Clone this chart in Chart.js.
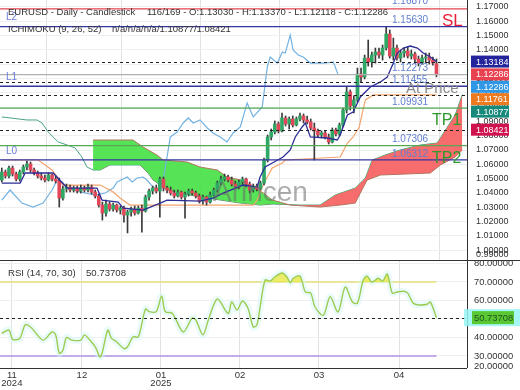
<!DOCTYPE html>
<html>
<head>
<meta charset="utf-8">
<script src="https://cdn.jsdelivr.net/npm/chart.js@4.4.1/dist/chart.umd.min.js"></script>
<style>
html, body { margin: 0; padding: 0; background: #fff; }
#wrap { position: relative; width: 520px; height: 390px; overflow: hidden; }
#main { position: absolute; left: 0; top: 0; }
#rsi { position: absolute; left: 0; top: 261px; }
</style>
</head>
<body>
<div id="wrap">
  <canvas id="main" width="520" height="261"></canvas>
  <canvas id="rsi" width="520" height="129"></canvas>
</div>
<script>
// EURUSD daily candles (index = bar number)
var opens = [1.0490,1.0546,1.0518,1.0574,1.0532,1.0497,1.0546,1.0581,1.0602,1.0560,
  1.0539,1.0518,1.0504,1.0490,1.0525,1.0497,1.0483,1.0364,1.0427,1.0441,
  1.0420,1.0434,1.0413,1.0434,1.0420,1.0441,1.0406,1.0378,1.0315,1.0259,
  1.0322,1.0287,1.0315,1.0280,1.0294,1.0245,1.0266,1.0287,1.0259,1.0294,
  1.0273,1.0371,1.0413,1.0434,1.0413,1.0497,1.0434,1.0420,1.0399,1.0378,
  1.0406,1.0371,1.0392,1.0413,1.0399,1.0378,1.0343,1.0371,1.0336,1.0385,
  1.0420,1.0469,1.0497,1.0511,1.0490,1.0462,1.0448,1.0476,1.0497,1.0462,
  1.0420,1.0448,1.0427,1.0469,1.0630,1.0791,1.0826,1.0882,1.0833,1.0924,
  1.0882,1.0917,1.0875,1.0917,1.0938,1.0910,1.0896,1.0854,1.0833,1.0805,
  1.0819,1.0791,1.0756,1.0840,1.0812,1.0875,1.0980,1.1106,1.1008,1.1050,
  1.1231,1.1210,1.1343,1.1315,1.1364,1.1385,1.1364,1.1413,1.1511,1.1357,
  1.1413,1.1343,1.1378,1.1392,1.1357,1.1371,1.1336,1.1308,1.1343,1.1350,
  1.1329,1.1303];
var highs = [1.0574,1.0560,1.0588,1.0588,1.0546,1.0560,1.0595,1.0623,1.0616,1.0574,
  1.0553,1.0539,1.0525,1.0539,1.0532,1.0518,1.0504,1.0448,1.0462,1.0455,
  1.0448,1.0448,1.0455,1.0448,1.0462,1.0455,1.0420,1.0392,1.0336,1.0350,
  1.0336,1.0329,1.0322,1.0308,1.0308,1.0280,1.0301,1.0308,1.0308,1.0315,
  1.0385,1.0427,1.0448,1.0455,1.0511,1.0511,1.0448,1.0441,1.0420,1.0420,
  1.0413,1.0406,1.0427,1.0427,1.0413,1.0392,1.0385,1.0378,1.0406,1.0434,
  1.0483,1.0518,1.0532,1.0525,1.0511,1.0483,1.0490,1.0511,1.0504,1.0476,
  1.0462,1.0462,1.0483,1.0644,1.0805,1.0847,1.0903,1.0896,1.0959,1.0938,
  1.0931,1.0938,1.0931,1.0959,1.0952,1.0938,1.0917,1.0889,1.0847,1.0833,
  1.0833,1.0812,1.0854,1.0854,1.0889,1.0994,1.1141,1.1120,1.1078,1.1273,
  1.1273,1.1364,1.1469,1.1385,1.1413,1.1413,1.1434,1.1563,1.1539,1.1483,
  1.1434,1.1399,1.1413,1.1420,1.1399,1.1385,1.1357,1.1364,1.1378,1.1378,
  1.1350,1.1337];
var lows = [1.0476,1.0504,1.0504,1.0518,1.0483,1.0483,1.0532,1.0560,1.0546,1.0525,
  1.0504,1.0490,1.0476,1.0483,1.0483,1.0469,1.0301,1.0350,1.0406,1.0406,
  1.0406,1.0399,1.0399,1.0406,1.0406,1.0392,1.0364,1.0301,1.0210,1.0238,
  1.0273,1.0273,1.0266,1.0252,1.0196,1.0120,1.0238,1.0245,1.0252,1.0126,
  1.0266,1.0350,1.0392,1.0399,1.0231,1.0413,1.0399,1.0385,1.0364,1.0371,
  1.0357,1.0224,1.0378,1.0385,1.0364,1.0329,1.0322,1.0315,1.0329,1.0378,
  1.0406,1.0455,1.0483,1.0476,1.0448,1.0434,1.0427,1.0455,1.0441,1.0399,
  1.0406,1.0413,1.0420,1.0455,1.0616,1.0770,1.0812,1.0819,1.0826,1.0868,
  1.0847,1.0861,1.0868,1.0903,1.0889,1.0882,1.0840,1.0630,1.0791,1.0784,
  1.0777,1.0742,1.0749,1.0798,1.0798,1.0861,1.0959,1.0980,1.0959,1.1036,
  1.1176,1.1197,1.1287,1.1280,1.1308,1.1343,1.1329,1.1399,1.1343,1.1329,
  1.1329,1.1315,1.1350,1.1343,1.1336,1.1308,1.1287,1.1301,1.1308,1.1301,
  1.1294,1.12118];
var closes = [1.0546,1.0518,1.0574,1.0532,1.0497,1.0546,1.0581,1.0602,1.0560,1.0539,
  1.0518,1.0504,1.0490,1.0525,1.0497,1.0483,1.0364,1.0427,1.0441,1.0420,
  1.0434,1.0413,1.0434,1.0420,1.0441,1.0406,1.0378,1.0315,1.0259,1.0322,
  1.0287,1.0315,1.0280,1.0294,1.0245,1.0266,1.0287,1.0259,1.0294,1.0273,
  1.0371,1.0413,1.0434,1.0413,1.0497,1.0434,1.0420,1.0399,1.0378,1.0406,
  1.0371,1.0392,1.0413,1.0399,1.0378,1.0343,1.0371,1.0336,1.0385,1.0420,
  1.0469,1.0497,1.0511,1.0490,1.0462,1.0448,1.0476,1.0497,1.0462,1.0420,
  1.0448,1.0427,1.0469,1.0630,1.0791,1.0826,1.0882,1.0833,1.0924,1.0882,
  1.0917,1.0875,1.0917,1.0938,1.0910,1.0896,1.0854,1.0833,1.0805,1.0819,
  1.0791,1.0756,1.0840,1.0812,1.0875,1.0980,1.1106,1.1008,1.1050,1.1231,
  1.1210,1.1343,1.1315,1.1364,1.1385,1.1364,1.1413,1.1511,1.1357,1.1413,
  1.1343,1.1378,1.1392,1.1357,1.1371,1.1336,1.1308,1.1343,1.1350,1.1329,
  1.1308,1.12286];

// Ichimoku lines (bar index / price)
var tenkanX = [0,5.1,6.5,14.3,18.2,26.5,27.9,32.4,33.8,39.3,44.1,46,55.2,58.8,61.6,67.2,71.1,71.9,73.3,75.3,78.3,80.3,81.7,83.6,84.5,85.9,90.6,93.4,94.2,96.2,97.8,99.8,102.6,105.4,107.3,109,110.1,111.8,113.7,115.7,117.3,119.3,121];
var tenkanY = [1.0469,1.0469,1.0539,1.0539,1.0434,1.0434,1.0350,1.0336,1.0294,1.0280,1.0329,1.0350,1.0343,1.0364,1.0399,1.0455,1.0441,1.0511,1.0581,1.0609,1.0651,1.0700,1.0791,1.0861,1.0889,1.0791,1.0784,1.0770,1.0805,1.0945,1.0966,1.1071,1.1141,1.1176,1.1210,1.1308,1.1378,1.1413,1.1427,1.1413,1.1378,1.1350,1.1318];
var kijunX = [0,10.1,14,17,27.4,31,32.9,35.7,70,71.1,72.5,73.9,75.3,78.1,78.9,94.2,96.2,97.8,99.5,101.2,103.4,121];
var kijunY = [1.0630,1.0630,1.0560,1.0455,1.0455,1.0406,1.0364,1.0315,1.0315,1.0350,1.0441,1.0511,1.0574,1.0609,1.0630,1.0651,1.0749,1.0791,1.0861,1.1050,1.1085,1.1085];
var chikouX = [0,2.3,5.6,8.7,11.5,14,15.4,16.8,18.2,21.8,26,28.8,31,32.1,34.9,36.3,37.7,39.3,40.4,42.1,44.1,44.9,46,46.9,48.8,50.5,51.9,53.3,55.2,57.2,58.8,60.8,62.7,64.4,66.4,68.3,70,72.5,73.9,74.7,76.7,78.1,78.9,80.3,81.1,82.5,83.9,85.9,89.5,92.3,93.6];
var chikouY = [1.0350,1.0420,1.0329,1.0301,1.0329,1.0420,1.0490,1.0476,1.0434,1.0406,1.0385,1.0399,1.0434,1.0476,1.0511,1.0476,1.0504,1.0511,1.0490,1.0441,1.0420,1.0490,1.0651,1.0791,1.0826,1.0889,1.0924,1.0889,1.0910,1.0854,1.0819,1.0791,1.0756,1.0819,1.0861,1.1029,1.0931,1.1001,1.1280,1.1350,1.1308,1.1385,1.1378,1.1504,1.1399,1.1364,1.1350,1.1308,1.1308,1.1315,1.1229];
var spanAX = [0,7,9.8,11.2,12.9,15.7,18.2,20.4,22.3,23.7,25.4,27.4,30.1,38.5,40.7,42.1,44.1,46,49.6,55.2,60.8,66.4,71.9,75.5,83.1,88.6,92.8,98.4,101.2,103.1,106.7,110.9,116.5,121.2,123.5,126.2,128.2];
var spanAY = [1.0931,1.0910,1.0910,1.0889,1.0826,1.0756,1.0735,1.0714,1.0651,1.0581,1.0560,1.0560,1.0595,1.0595,1.0539,1.0490,1.0455,1.0420,1.0399,1.0371,1.0350,1.0329,1.0315,1.0322,1.0315,1.0315,1.0385,1.0434,1.0504,1.0630,1.0665,1.0700,1.0735,1.0749,1.0840,1.0945,1.1088];
var spanBX = [25.4,36.5,39.3,43.2,44.9,51.6,55.2,60,62.7,66.4,70,72.8,75.3,80.3,88.6,94.2,98.4,99.8,101.7,105.4,119.3,122.1,126.2,128.2];
var spanBY = [1.0770,1.0770,1.0721,1.0665,1.0630,1.0616,1.0581,1.0560,1.0511,1.0490,1.0441,1.0399,1.0350,1.0315,1.0301,1.0315,1.0329,1.0399,1.0490,1.0525,1.0539,1.0595,1.0651,1.0700];

// RSI (14)
var rsiX = [0,2,3,5,6.5,8,11.5,14,15,16,17,18,19.5,22,23,24,26,27.5,29.5,30.5,32,34,35,36.5,38,40,41,43,44.5,45.5,47.5,50.5,53,54,56,57.5,60,63,64,65.5,67,68.5,70,71,72,73.3,74.7,76,78,79.4,80.3,81.1,83,84.5,86,87.2,89.5,91.4,93.6,95.6,97.6,99,100.6,101.7,103,104.8,106,107.3,108.7,110,111.8,113,114.5,116,118.4,119.3,121];
var rsiY = [42.3,44,39,39.5,46.8,45.7,38.6,43,41.4,31.5,33,40,38.6,38.6,41.4,39.7,35,29.5,44,39.7,37.6,34,35,40.3,40.3,55.4,54,54,62.4,54,53,43,50.5,49.5,41.4,49.5,60.8,53,59.2,54.9,59.7,56,45.7,46.8,57.6,71,70.5,72.7,74.9,72.7,69.5,72,73.2,64.6,64,56.5,52,62,53.8,67.3,59.2,58.6,71,73.2,70,72,70.5,74.3,64,64.6,65,64,58.6,57.6,58,59.2,50.73708];

// levels drawn on the price panel
var levelValues = [1.16870, 1.15630, 1.12273, 1.11455, 1.09931, 1.07306, 1.06312];
var levelTags = ['SL', 'L2', '', 'L1', 'TP1', '', 'L0'];
var indicatorValues = [1.13184, 1.11761, 1.10877, 1.08421];
var boxValues = [1.13184, 1.12286, 1.12286, 1.11761, 1.10877, 1.08421];
var priceTicks = [1.00,1.01,1.02,1.03,1.04,1.05,1.06,1.07,1.08,1.09,1.10,1.11,1.12,1.13,1.14,1.15,1.16,1.17];
var rsiTicks = [80,70,60,50,40,30];
var monthPos = [2.8, 22.3, 44.3, 66.3, 88.3, 110.6];
var monthLabels = [['11','2024'], '12', ['01','2025'], '02', '03', '04'];

var FONT = 'Liberation Sans, Arial, sans-serif';
var xMin = -0.5, xMax = 129.5;

function pts(xs, ys) {
  return xs.map(function (x, i) { return { x: x, y: ys[i] }; });
}
var bars = closes.map(function (c, i) { return i; });

function xAxis(showLabels) {
  return {
    type: 'linear', min: xMin, max: xMax, offset: false,
    afterBuildTicks: function (s) { s.ticks = monthPos.map(function (v) { return { value: v }; }); },
    afterFit: function (s) { s.height = showLabels ? 22 : 0; s.paddingLeft = 0; s.paddingRight = 0; },
    grid: { color: '#e2e2e2', drawTicks: false },
    border: { display: false },
    ticks: {
      display: showLabels, autoSkip: false, maxRotation: 0, padding: 4, color: '#333',
      font: { family: FONT, size: 9.5, lineHeight: 0.8 },
      callback: function (v, i) { return monthLabels[i]; }
    }
  };
}

var overlay = {
  id: 'overlay',
  afterDatasetsDraw: function (chart) {
    var ctx = chart.ctx, a = chart.chartArea, y = chart.scales.y;
    ctx.save();
    // watermark
    ctx.font = '28px ' + FONT;
    ctx.fillStyle = 'rgba(105,105,105,0.55)';
    ctx.textBaseline = 'middle';
    ctx.fillText('Arincen', 213, 193);

    // indicator value lines
    ctx.setLineDash([3, 3]);
    ctx.strokeStyle = '#222';
    ctx.lineWidth = 1;
    indicatorValues.forEach(function (v) {
      var py = Math.round(y.getPixelForValue(v)) + 0.5;
      ctx.beginPath(); ctx.moveTo(a.left, py); ctx.lineTo(a.right, py); ctx.stroke();
    });
    ctx.setLineDash([]);

    var lvlColors = ['#e2434f', '#3535a0', '#b0b0b0', '#3535a0', '#55a955', '#55a955', '#3535a0'];
    levelValues.forEach(function (v, i) {
      var py = y.getPixelForValue(v);
      ctx.strokeStyle = lvlColors[i];
      ctx.lineWidth = 1.4;
      ctx.beginPath(); ctx.moveTo(a.left, py); ctx.lineTo(a.right, py); ctx.stroke();
      ctx.font = '10px ' + FONT;
      ctx.fillStyle = '#5f7fcf';
      ctx.fillText(v.toFixed(5), 392, i === 0 ? py - 8 : py - 6);
      var tag = levelTags[i];
      if (tag === 'L0' || tag === 'L1' || tag === 'L2') {
        ctx.fillStyle = '#6a7cd6';
        ctx.fillText(tag, 6, py - 9);
      }
    });
    var ySL = y.getPixelForValue(levelValues[1]);
    ctx.font = '17px ' + FONT;
    ctx.fillStyle = '#e8203a';
    ctx.fillText('SL', 442, ySL - 5);
    ctx.font = '16px ' + FONT;
    ctx.fillStyle = '#2e9a2e';
    ctx.fillText('TP1', 432, y.getPixelForValue(levelValues[4]) + 13);
    ctx.fillText('TP2', 432, y.getPixelForValue(levelValues[5]) + 12.5);
    ctx.font = '15px ' + FONT;
    ctx.fillStyle = '#8a8a8a';
    ctx.fillText('At Price', 406, y.getPixelForValue(levelValues[3]) + 3);

    // title
    ctx.font = '9.5px ' + FONT;
    ctx.fillStyle = '#333';
    ctx.fillText('EURUSD - Daily - Candlestick', 8, 12.5);
    ctx.fillText('116/169 - O:1.13030 - H:1.13370 - L:1.12118 - C:1.12286', 147, 12.5);
    ctx.fillText('ICHIMOKU (9, 26, 52)', 8, 29.5);
    ctx.fillText('n/a/n/a/n/a/1.10877/1.08421', 112, 29.5);
    ctx.restore();
  },
  afterDraw: function (chart) {
    var ctx = chart.ctx, a = chart.chartArea, y = chart.scales.y;
    ctx.save();
    ctx.strokeStyle = '#333';
    ctx.lineWidth = 1;
    ctx.beginPath(); ctx.moveTo(a.right + 0.5, 0); ctx.lineTo(a.right + 0.5, a.bottom); ctx.stroke();
    ctx.beginPath(); ctx.moveTo(0, a.bottom - 0.5); ctx.lineTo(chart.width, a.bottom - 0.5); ctx.stroke();

    ctx.font = '9px ' + FONT;
    ctx.textBaseline = 'middle';
    ctx.fillStyle = '#333';
    ctx.fillText('0.99000', 476, 255);

    var boxColors = ['#23239b', '#e8414f', '#2f97e6', '#ee7a20', '#17897b', '#d0124f'];
    var prev = -100;
    boxValues.forEach(function (v, i) {
      var cy = Math.max(y.getPixelForValue(v), prev + 12.4);
      prev = cy;
      ctx.fillStyle = boxColors[i];
      ctx.fillRect(471, cy - 6, 38, 12);
      ctx.fillStyle = '#fff';
      ctx.fillText(v.toFixed(5), 476, cy + 0.5);
    });
    ctx.restore();
  }
};

new Chart(document.getElementById('main'), {
  type: 'bar',
  data: {
    datasets: [
      { type: 'line', label: 'Senkou A', data: pts(spanAX, spanAY), borderColor: '#4aa383', borderWidth: 1,
        pointRadius: 0, fill: false, order: 20 },
      { type: 'line', label: 'Senkou B', data: pts(spanBX, spanBY), borderColor: '#b5745e', borderWidth: 1,
        pointRadius: 0, fill: { target: 0, above: 'rgba(72,226,72,0.92)', below: 'rgba(246,96,96,0.92)' }, order: 19 },
      { type: 'line', label: 'Chikou', data: pts(chikouX, chikouY), borderColor: '#72b2e2', borderWidth: 1.2,
        pointRadius: 0, fill: false, order: 15 },
      { type: 'line', label: 'Kijun', data: pts(kijunX, kijunY), borderColor: '#f4a46c', borderWidth: 1.2,
        pointRadius: 0, fill: false, order: 14 },
      { type: 'bar', label: 'wick', data: bars.map(function (i) { return { x: i, y: [lows[i], highs[i]] }; }),
        backgroundColor: '#3a3a3a', barThickness: 1, grouped: false, order: 12 },
      { type: 'bar', label: 'body', data: bars.map(function (i) { return { x: i, y: [opens[i], closes[i]] }; }),
        backgroundColor: bars.map(function (i) { return closes[i] >= opens[i] ? '#2fa866' : '#e2475a'; }),
        barThickness: 3, grouped: false, minBarLength: 1, order: 11 },
      { type: 'line', label: 'Tenkan', data: pts(tenkanX, tenkanY), borderColor: '#2d2d96', borderWidth: 1.3,
        pointRadius: 0, fill: false, order: 10 }
    ]
  },
  options: {
    responsive: false, animation: false, events: [],
    layout: { padding: 0 },
    plugins: { legend: { display: false }, tooltip: { enabled: false } },
    scales: {
      x: xAxis(false),
      y: {
        position: 'right', min: 0.992378, max: 1.174895,
        afterBuildTicks: function (s) { s.ticks = priceTicks.map(function (v) { return { value: v }; }); },
        afterFit: function (s) { s.width = 53; s.paddingTop = 0; s.paddingBottom = 0; },
        grid: { color: '#efefef', drawTicks: false },
        border: { display: false },
        ticks: { autoSkip: false, padding: 9, color: '#333', font: { family: FONT, size: 9 },
          callback: function (v) { return v.toFixed(5); } }
      }
    }
  },
  plugins: [overlay]
});

var rsiOverlay = {
  id: 'rsiOverlay',
  beforeDatasetsDraw: function (chart) {
    var ctx = chart.ctx, a = chart.chartArea, x = chart.scales.x, y = chart.scales.y;
    var xEnd = x.getPixelForValue(rsiX[rsiX.length - 1]);
    ctx.save();
    ctx.lineWidth = 1.5;
    ctx.strokeStyle = '#e4df7c';
    ctx.beginPath(); ctx.moveTo(a.left, y.getPixelForValue(70)); ctx.lineTo(xEnd, y.getPixelForValue(70)); ctx.stroke();
    ctx.strokeStyle = '#b294e4';
    ctx.beginPath(); ctx.moveTo(a.left, y.getPixelForValue(30)); ctx.lineTo(xEnd, y.getPixelForValue(30)); ctx.stroke();
    ctx.restore();
  },
  afterDatasetsDraw: function (chart) {
    var ctx = chart.ctx, a = chart.chartArea, y = chart.scales.y;
    var last = rsiY[rsiY.length - 1];
    var py = Math.round(y.getPixelForValue(last)) + 0.5;
    ctx.save();
    ctx.setLineDash([3, 3]);
    ctx.strokeStyle = '#222';
    ctx.lineWidth = 1;
    ctx.beginPath(); ctx.moveTo(a.left, py); ctx.lineTo(a.right, py); ctx.stroke();
    ctx.setLineDash([]);
    ctx.font = '9.6px ' + FONT;
    ctx.fillStyle = '#333';
    ctx.textBaseline = 'middle';
    ctx.fillText('RSI (14, 70, 30)', 8, 12.5);
    ctx.fillText(last.toFixed(5), 86, 12.5);
    ctx.restore();
  },
  afterDraw: function (chart) {
    var ctx = chart.ctx, a = chart.chartArea, y = chart.scales.y;
    var last = rsiY[rsiY.length - 1];
    var py = y.getPixelForValue(last);
    ctx.save();
    ctx.strokeStyle = '#333';
    ctx.lineWidth = 1;
    ctx.beginPath(); ctx.moveTo(a.right + 0.5, a.top); ctx.lineTo(a.right + 0.5, a.bottom); ctx.stroke();
    ctx.beginPath(); ctx.moveTo(0, a.bottom + 0.5); ctx.lineTo(a.right, a.bottom + 0.5); ctx.stroke();
    ctx.fillStyle = 'rgba(150,245,245,0.85)';
    ctx.fillRect(464, py - 8.5, 56, 17);
    ctx.fillStyle = '#5ac832';
    ctx.fillRect(472, py - 6.5, 42, 13);
    ctx.font = '9.4px ' + FONT;
    ctx.textBaseline = 'middle';
    ctx.fillStyle = '#1f4f1f';
    ctx.fillText(last.toFixed(5), 474, py + 0.5);
    ctx.fillStyle = '#333';
    ctx.fillText('20.00000', 474, 105);
    ctx.restore();
  }
};

new Chart(document.getElementById('rsi'), {
  type: 'line',
  data: {
    datasets: [
      { label: 'glow', data: pts(rsiX, rsiY), borderColor: 'rgba(215,248,250,0.5)', borderWidth: 7,
        pointRadius: 0, tension: 0.3, fill: false, order: 5 },
      { label: 'RSI', data: pts(rsiX, rsiY), borderColor: '#9ccc52', borderWidth: 1.4,
        pointRadius: 0, tension: 0.3, order: 1,
        fill: { target: { value: 70 }, above: 'rgba(232,232,70,0.8)', below: 'rgba(0,0,0,0)' } }
    ]
  },
  options: {
    responsive: false, animation: false, events: [],
    layout: { padding: 0 },
    plugins: { legend: { display: false }, tooltip: { enabled: false } },
    scales: {
      x: xAxis(true),
      y: {
        position: 'right', min: 23.51, max: 81.35,
        afterBuildTicks: function (s) { s.ticks = rsiTicks.map(function (v) { return { value: v }; }); },
        afterFit: function (s) { s.width = 53; s.paddingTop = 0; s.paddingBottom = 0; },
        grid: { color: '#efefef', drawTicks: false },
        border: { display: false },
        ticks: { autoSkip: false, padding: 7, color: '#333', font: { family: FONT, size: 9.4 },
          callback: function (v) { return v.toFixed(5); } }
      }
    }
  },
  plugins: [rsiOverlay]
});
</script>
</body>
</html>
